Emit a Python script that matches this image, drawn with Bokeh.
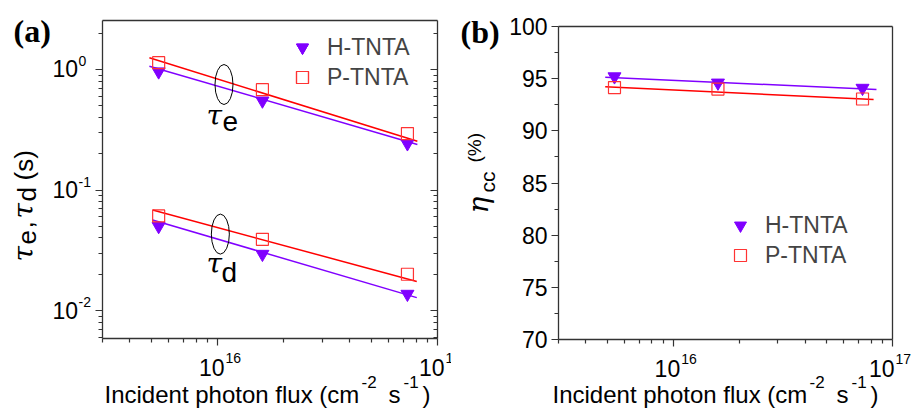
import numpy as np
from bokeh.plotting import figure
from bokeh.layouts import row
from bokeh.models import (FixedTicker, LogAxis, LinearAxis, Label, Legend, LegendItem,
                          Range1d, CustomJSTickFormatter)
from bokeh.embed import file_html
from bokeh.resources import INLINE

# ---------------- data ----------------
flux = [5.4e15, 1.6e16, 7.3e16]
tau_e_H = [0.96, 0.55, 0.243]
tau_e_P = [1.14, 0.68, 0.294]
tau_d_H = [0.050, 0.0294, 0.0137]
tau_d_P = [0.061, 0.039, 0.020]
eta_H = [95.2, 94.6, 94.1]
eta_P = [94.15, 94.0, 93.05]

# fitted lines (end points)
fit_x_e = [4.9e15, 8.1e16]
fit_tau_e_H = [1.065, 0.239]
fit_tau_e_P = [1.25, 0.254]
fit_x_d = [5.07e15, 8.05e16]
fit_tau_d_H = [0.0564, 0.0128]
fit_tau_d_P = [0.0683, 0.0174]
fit_x_eta_H = [4.9e15, 8.45e16]
fit_eta_H = [95.14, 93.96]
fit_x_eta_P = [4.9e15, 8.2e16]
fit_eta_P = [94.22, 93.0]

series_names = ["H-TNTA", "P-TNTA"]
x_ticks = [1e16, 1e17]
x_tick_exp = ["16", "17"]
ya_ticks = [1e-2, 1e-1, 1e0]
ya_tick_exp = ["-2", "-1", "0"]
yb_ticks = [70, 75, 80, 85, 90, 95, 100]
ellipse_x = [1.07e16, 1.03e16]

X_RANGE = (3e15, 1e17)
YA_RANGE = (0.00586, 2.55)
YB_RANGE = (70, 100)

# ---------------- layout / style ----------------
H = 410
WA, WB = 451, 463
BOX_A = dict(L=102, R=437, T=20, B=338)   # data area of panel (a), canvas px
BOX_B = dict(L=107, R=441, T=26, B=339)   # data area of panel (b), canvas px
XLAB_SHIFT_A = [0, 0]
XLAB_SHIFT_B = [0, -5]
BASE_FIX = 0.37        # Label baseline correction, fraction of font size

PURPLE = "#8000FF"
RED = "#FF0000"
SQ_RED = "#FF3333"
FRAME = "#333333"
SANS = "Liberation Sans"
SERIF = "DejaVu Serif"
TNR = "Liberation Serif"

xs, xe = X_RANGE
x_minor = [k * 10 ** e for e in (15, 16) for k in range(2, 10) if xs <= k * 10 ** e <= xe]
ya_minor = [k * 10 ** e for e in (-3, -2, -1, 0) for k in range(2, 10)
            if YA_RANGE[0] <= k * 10 ** e <= YA_RANGE[1]]
yb_minor = [t + 2.5 for t in yb_ticks[:-1]]


def ext_range(lo, hi, p_lo, p_hi, pad_lo, pad_hi, log):
    """extend a data range so that [lo, hi] covers pixels p_lo..p_hi of the canvas"""
    f = np.log10 if log else (lambda v: v)
    a, b = f(lo), f(hi)
    per = (b - a) / (p_hi - p_lo)
    s, e = a - pad_lo * per, b + pad_hi * per
    return Range1d(10 ** s, 10 ** e) if log else Range1d(s, e)


def empty():
    return CustomJSTickFormatter(code="return ''")


def axis(cls, fixed, bounds, ticker=None, out=(7, 4), inn=(0, 0), fmt=None):
    return cls(fixed_location=fixed, bounds=bounds,
               ticker=ticker if ticker is not None else FixedTicker(ticks=[]),
               formatter=fmt if fmt is not None else empty(),
               axis_line_color=FRAME, axis_line_width=1.3,
               major_tick_line_color=FRAME, minor_tick_line_color=FRAME,
               major_tick_line_width=1.2, minor_tick_line_width=1.2,
               major_tick_out=out[0], minor_tick_out=out[1],
               major_tick_in=inn[0], minor_tick_in=inn[1])


def lab(p, text, x, y, size, font=SANS, style="normal", align="left",
        angle=0, xu="screen", yu="screen", xo=0, yo=0):
    """x, y: data values, or canvas pixels (y from the top) for screen units"""
    sh = BASE_FIX * size
    if angle == 0:
        yo += sh
    else:
        xo -= sh
    if yu == "screen":
        y = H - y
    p.add_layout(Label(x=x, y=y, x_units=xu, y_units=yu, text=text,
                       text_font=font, text_font_size=f"{size}px",
                       text_font_style=style, text_align=align,
                       text_baseline="alphabetic", angle=angle,
                       x_offset=xo, y_offset=yo, text_color="black"))


def new_fig(W, box, yrange, ylog):
    xr = ext_range(*X_RANGE, box["L"], box["R"], box["L"], W - box["R"], True)
    yr = ext_range(*yrange, H - box["B"], H - box["T"], H - box["B"], box["T"], ylog)
    p = figure(width=W, height=H, x_axis_type="log",
               y_axis_type="log" if ylog else "linear",
               x_range=xr, y_range=yr, x_axis_location=None, y_axis_location=None,
               output_backend="svg", toolbar_location=None,
               min_border=0, min_border_left=0, min_border_right=0,
               min_border_top=0, min_border_bottom=0)
    p.grid.visible = False
    p.outline_line_color = None
    p.background_fill_color = "white"
    p.border_fill_color = "white"
    return p


def x_tick_labels(p, ystart, shifts):
    for t, e, s in zip(x_ticks, x_tick_exp, shifts):
        lab(p, "10", t, ystart, 23, xu="data", yu="data", align="right", xo=7 + s, yo=-38)
        lab(p, e, t, ystart, 14, xu="data", yu="data", align="left", xo=8 + s, yo=-25)


def x_title(p, X0, Y):
    pieces = [("Incident photon flux (cm", 0, 0, 24), ("-2", 257, -15, 17),
              ("s", 284, 0, 24), ("-1", 299, -15, 17), (")", 318, 0, 24)]
    for txt, dx, dy, sz in pieces:
        lab(p, txt, X0 + dx, Y + dy, sz)


# ---------------- panel (a) ----------------
pa = new_fig(WA, BOX_A, YA_RANGE, True)
ys, ye = YA_RANGE
pa.add_layout(axis(LogAxis, ys, (xs, xe), FixedTicker(ticks=x_ticks, minor_ticks=x_minor)), "below")
pa.add_layout(axis(LogAxis, ye, (xs, xe), None, out=(0, 0)), "above")
pa.add_layout(axis(LogAxis, xs, (ys, ye), FixedTicker(ticks=ya_ticks, minor_ticks=ya_minor)), "left")
pa.add_layout(axis(LogAxis, xe, (ys, ye), FixedTicker(ticks=ya_ticks, minor_ticks=ya_minor),
                   out=(0, 0), inn=(7, 4)), "right")

pa.line(fit_x_e, fit_tau_e_H, line_color=PURPLE, line_width=1.5)
pa.line(fit_x_e, fit_tau_e_P, line_color=RED, line_width=1.5)
pa.line(fit_x_d, fit_tau_d_H, line_color=PURPLE, line_width=1.5)
pa.line(fit_x_d, fit_tau_d_P, line_color=RED, line_width=1.5)
rHe = pa.scatter(flux, tau_e_H, marker="inverted_triangle", size=13,
                 fill_color=PURPLE, line_color=PURPLE)
rPe = pa.scatter(flux, tau_e_P, marker="square", size=12, fill_alpha=0,
                 line_color=SQ_RED, line_width=1.2)
rHd = pa.scatter(flux, tau_d_H, marker="inverted_triangle", size=13,
                 fill_color=PURPLE, line_color=PURPLE)
rPd = pa.scatter(flux, tau_d_P, marker="square", size=12, fill_alpha=0,
                 line_color=SQ_RED, line_width=1.2)

# ellipses marking each pair of fitted lines
ey = []
for ex, fx, fh, fp in ((ellipse_x[0], fit_x_e, fit_tau_e_H, fit_tau_e_P),
                       (ellipse_x[1], fit_x_d, fit_tau_d_H, fit_tau_d_P)):
    lx = np.log10(fx)
    lh = np.interp(np.log10(ex), lx, np.log10(fh))
    lp = np.interp(np.log10(ex), lx, np.log10(fp))
    ey.append(10 ** ((lh + lp) / 2))
pa.ellipse(x=ellipse_x, y=ey, width=18, height=40, width_units="screen",
           height_units="screen", fill_alpha=0, line_color="black", line_width=1)

leg_a = Legend(items=[LegendItem(label=series_names[0], renderers=[rHe, rHd]),
                      LegendItem(label=series_names[1], renderers=[rPe, rPd])],
               location=(287, 318), glyph_width=30, glyph_height=30, spacing=-3,
               padding=0, margin=0, label_standoff=10, label_text_font=SANS,
               label_text_font_size="23px", border_line_alpha=0,
               background_fill_alpha=0)
pa.add_layout(leg_a)

x_tick_labels(pa, ys, XLAB_SHIFT_A)
for t, e in zip(ya_ticks, ya_tick_exp):
    lab(pa, "10", xs, t, 23, xu="data", yu="data", xo=-50, yo=-8)
    lab(pa, e, xs, t, 14, xu="data", yu="data", xo=-24, yo=3)

x_title(pa, 104, 403)
ang = np.pi / 2
lab(pa, "τ", 33, 261, 28, font=SERIF, style="italic", angle=ang)
lab(pa, "e", 36, 244, 26, angle=ang)
lab(pa, ",", 33, 228, 26, angle=ang)
lab(pa, "τ", 33, 218, 28, font=SERIF, style="italic", angle=ang)
lab(pa, "d", 36, 201, 26, angle=ang)
lab(pa, "(s)", 33, 180, 26, angle=ang)

lab(pa, "τ", 206, 125, 28, font=SERIF, style="italic")
lab(pa, "e", 222, 131, 28)
lab(pa, "τ", 206, 273, 28, font=SERIF, style="italic")
lab(pa, "d", 221, 282, 28)
lab(pa, "(a)", 13, 42, 32, font=TNR, style="bold")

# ---------------- panel (b) ----------------
pb = new_fig(WB, BOX_B, YB_RANGE, False)
ys2, ye2 = YB_RANGE
pb.add_layout(axis(LogAxis, ys2, (xs, xe), FixedTicker(ticks=x_ticks, minor_ticks=x_minor)), "below")
pb.add_layout(axis(LogAxis, ye2, (xs, xe), None, out=(0, 0)), "above")
yax = axis(LinearAxis, xs, (ys2, ye2), FixedTicker(ticks=yb_ticks, minor_ticks=yb_minor),
           fmt=CustomJSTickFormatter(code="return tick.toFixed(0)"))
yax.major_label_text_font = SANS
yax.major_label_text_font_size = "23px"
yax.major_label_text_color = "black"
yax.major_label_standoff = 4
pb.add_layout(yax, "left")
pb.add_layout(axis(LinearAxis, xe, (ys2, ye2), None, out=(0, 0)), "right")

pb.line(fit_x_eta_H, fit_eta_H, line_color=PURPLE, line_width=1.5)
pb.line(fit_x_eta_P, fit_eta_P, line_color=RED, line_width=1.5)
rHb = pb.scatter(flux, eta_H, marker="inverted_triangle", size=13,
                 fill_color=PURPLE, line_color=PURPLE)
rPb = pb.scatter(flux, eta_P, marker="square", size=12, fill_alpha=0,
                 line_color=SQ_RED, line_width=1.2)

leg_b = Legend(items=[LegendItem(label=series_names[0], renderers=[rHb]),
                      LegendItem(label=series_names[1], renderers=[rPb])],
               location=(274, 140), glyph_width=30, glyph_height=30, spacing=-3,
               padding=0, margin=0, label_standoff=10, label_text_font=SANS,
               label_text_font_size="23px", border_line_alpha=0,
               background_fill_alpha=0)
pb.add_layout(leg_b)

x_tick_labels(pb, ys2, XLAB_SHIFT_B)
x_title(pb, 101, 403)
lab(pb, "η", 37, 213, 28, font=SERIF, style="italic", angle=ang)
lab(pb, "cc", 44, 192, 21, angle=ang)
lab(pb, "(%)", 30, 162, 19, angle=ang)
lab(pb, "(b)", 9, 43, 32, font=TNR, style="bold")

layout = row(pa, pb, spacing=0)
open("out.html", "w").write(file_html(layout, INLINE))
